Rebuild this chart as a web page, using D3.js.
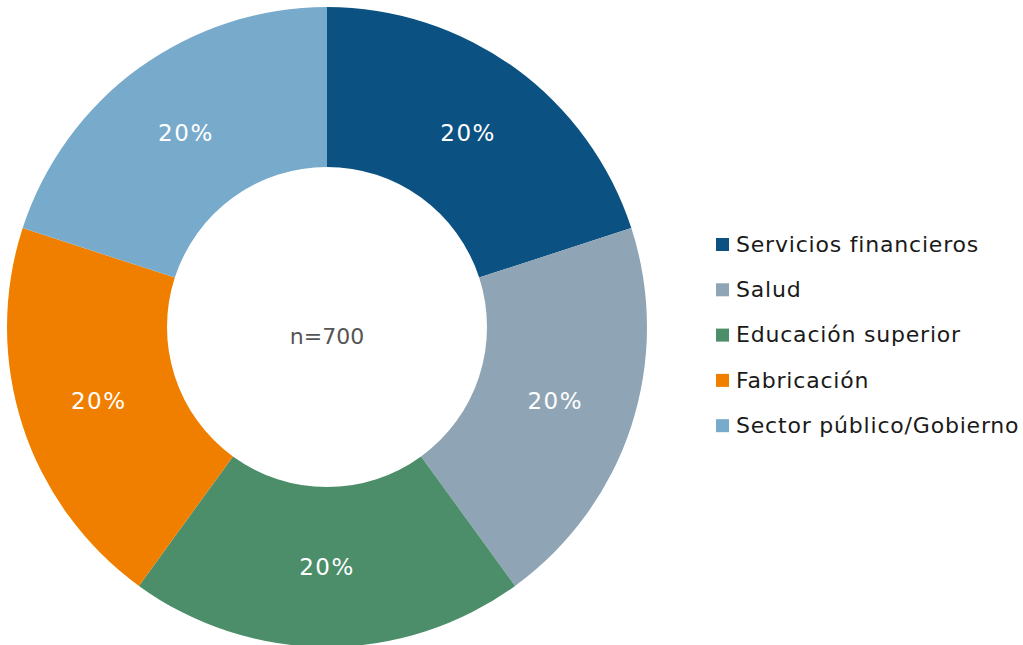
<!doctype html>
<html lang="es">
<head>
<meta charset="UTF-8">
<title>Donut</title>
<style>
  body { margin: 0; background: #fff; }
  text { font-family: "DejaVu Sans", sans-serif; }
</style>
</head>
<body>
<div class="chart"></div>
<script src="https://d3js.org/d3.v7.min.js"></script>
<script>
  const categories = ['Servicios financieros', 'Salud', 'Educación superior', 'Fabricación', 'Sector público/Gobierno']
  const values = [20, 20, 20, 20, 20]
  const colors = ['#0b5282', '#8fa5b5', '#4b8e69', '#f07f00', '#78aacb']
  const total = 'n=700'

  const width = 1023
  const height = 645
  const cx = 327, cy = 327
  const outer = 320, inner = 160

  const svg = d3.select('.chart')
    .append('svg')
    .attr('width', width)
    .attr('height', height)

  const data = categories.map((c, i) => ({ name: c, value: values[i], color: colors[i] }))

  const pie = d3.pie().sort(null).value(d => d.value)
  const arc = d3.arc().innerRadius(inner).outerRadius(outer)
  const labelArc = d3.arc().innerRadius(240).outerRadius(240)

  const g = svg.append('g').attr('transform', `translate(${cx}, ${cy})`)

  const slices = g.selectAll('.slice')
    .data(pie(data))
    .enter()
    .append('g')
    .attr('class', 'slice')

  slices.append('path')
    .attr('d', arc)
    .style('fill', d => d.data.color)

  slices.append('text')
    .attr('transform', d => `translate(${labelArc.centroid(d)})`)
    .attr('text-anchor', 'middle')
    .attr('dy', '0.35em')
    .style('font-size', '23px')
    .style('letter-spacing', '1.5px')
    .style('fill', '#fff')
    .text(d => d.data.value + '%')

  g.append('text')
    .attr('text-anchor', 'middle')
    .attr('dy', '0.35em')
    .attr('y', 9)
    .style('font-size', '22px')
    .style('fill', '#555')
    .text(total)

  const legend = svg.append('g').attr('transform', 'translate(716, 244)')
  const items = legend.selectAll('.item')
    .data(data)
    .enter()
    .append('g')
    .attr('class', 'item')
    .attr('transform', (d, i) => `translate(0, ${i * 45.3})`)

  items.append('rect')
    .attr('x', 0)
    .attr('y', -6)
    .attr('width', 13)
    .attr('height', 13)
    .style('fill', d => d.color)

  items.append('text')
    .attr('x', 20)
    .attr('dy', '0.35em')
    .style('font-size', '22px')
    .style('letter-spacing', '0.8px')
    .style('fill', '#1a1a1a')
    .text(d => d.name)
</script>
</body>
</html>
